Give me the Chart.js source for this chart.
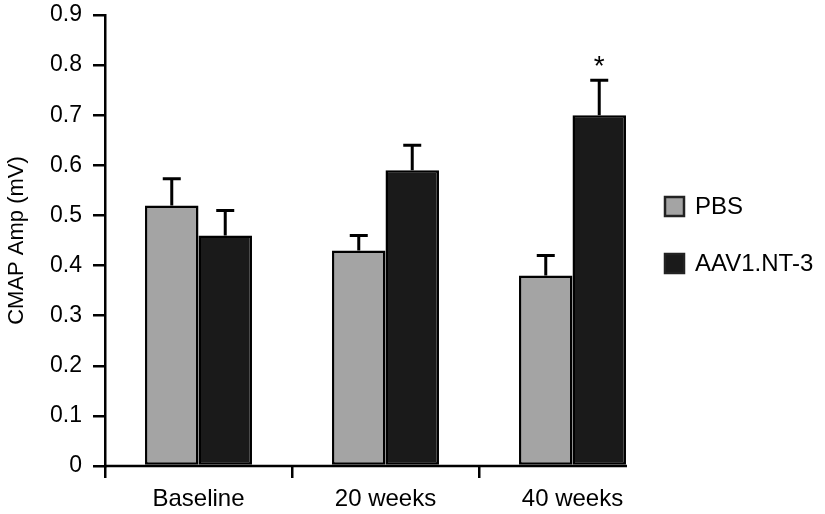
<!DOCTYPE html>
<html>
<head>
<meta charset="utf-8">
<script src="https://cdn.jsdelivr.net/npm/chart.js@4.4.1/dist/chart.umd.min.js"></script>
<style>
  html, body { margin: 0; padding: 0; background: #fff; }
  #wrap { width: 825px; height: 514px; }
</style>
</head>
<body>
<div id="wrap"><canvas id="cmapChart" width="825" height="514"></canvas></div>
<script>
const categories = ['Baseline', '20 weeks', '40 weeks'];
const pbsValues = [0.52, 0.43, 0.38];
const pbsErrors = [0.053, 0.03, 0.04];
const aavValues = [0.46, 0.59, 0.70];
const aavErrors = [0.05, 0.05, 0.07];
const significance = ['', '', '*']; // marks over AAV1.NT-3 bars

const FONT = '"Liberation Sans", Arial, Helvetica, sans-serif';

const errorBars = {
  id: 'errorBars',
  afterDatasetsDraw(chart) {
    const ctx = chart.ctx;
    const y = chart.scales.y;
    ctx.save();
    ctx.strokeStyle = '#000';
    ctx.lineWidth = 3;
    chart.data.datasets.forEach((ds, di) => {
      const meta = chart.getDatasetMeta(di);
      meta.data.forEach((bar, i) => {
        const top = y.getPixelForValue(ds.data[i] + ds.errors[i]);
        ctx.beginPath();
        ctx.moveTo(bar.x, bar.y);
        ctx.lineTo(bar.x, top);
        ctx.moveTo(bar.x - 9, top);
        ctx.lineTo(bar.x + 9, top);
        ctx.stroke();
        if (di === 1 && significance[i]) {
          ctx.fillStyle = '#000';
          ctx.font = '28px ' + FONT;
          ctx.textAlign = 'center';
          ctx.textBaseline = 'alphabetic';
          ctx.fillText(significance[i], bar.x, top - 5);
        }
      });
    });
    ctx.restore();
  }
};

// x axis line stops at the right edge of the last bar, as in the figure
const xAxisLine = {
  id: 'xAxisLine',
  afterDatasetsDraw(chart) {
    const ctx = chart.ctx;
    const area = chart.chartArea;
    const last = chart.getDatasetMeta(chart.data.datasets.length - 1).data;
    const bar = last[last.length - 1];
    ctx.save();
    ctx.strokeStyle = '#000';
    ctx.lineWidth = 2.5;
    ctx.beginPath();
    ctx.moveTo(area.left - 1, area.bottom);
    ctx.lineTo(bar.x + bar.width / 2 + 1, area.bottom);
    ctx.stroke();
    ctx.restore();
  }
};

const sideLegend = {
  id: 'sideLegend',
  afterDraw(chart) {
    const ctx = chart.ctx;
    ctx.save();
    ctx.font = '24px ' + FONT;
    ctx.textBaseline = 'middle';
    chart.data.datasets.forEach((ds, i) => {
      const cy = 206 + i * 57;
      ctx.fillStyle = ds.backgroundColor;
      ctx.strokeStyle = '#222';
      ctx.lineWidth = 2.5;
      ctx.fillRect(665, cy - 9, 19, 19);
      ctx.strokeRect(665, cy - 9, 19, 19);
      ctx.fillStyle = '#000';
      ctx.fillText(ds.label, 695, cy + 1);
    });
    ctx.restore();
  }
};

new Chart(document.getElementById('cmapChart').getContext('2d'), {
  type: 'bar',
  data: {
    labels: categories,
    datasets: [
      {
        label: 'PBS',
        data: pbsValues,
        errors: pbsErrors,
        backgroundColor: '#a4a4a4',
        borderColor: '#000',
        borderWidth: 2.5,
        borderSkipped: false
      },
      {
        label: 'AAV1.NT-3',
        data: aavValues,
        errors: aavErrors,
        backgroundColor: '#1a1a1a',
        borderColor: '#000',
        borderWidth: 2.5,
        borderSkipped: false
      }
    ]
  },
  options: {
    responsive: false,
    animation: false,
    layout: { padding: { top: 0, right: 159, left: 0, bottom: 0 } },
    datasets: { bar: { categoryPercentage: 0.572, barPercentage: 1.0 } },
    plugins: {
      legend: { display: false },
      tooltip: { enabled: false }
    },
    scales: {
      x: {
        afterFit(scale) { scale.height = 48; },
        border: { display: false },
        grid: {
          offset: true,
          drawOnChartArea: false,
          drawTicks: true,
          tickLength: 12,
          color: (c) => (c.type === 'tick' ? '#000' : 'rgba(0,0,0,0)'),
          lineWidth: 2.5
        },
        ticks: {
          color: '#000',
          padding: 7,
          font: { family: FONT, size: 24 }
        }
      },
      y: {
        min: 0,
        max: 0.9,
        afterFit(scale) {
          scale.width = 105;
          scale.paddingTop = 15;
          scale.paddingBottom = 0;
        },
        border: { color: '#000', width: 2.5 },
        grid: {
          drawOnChartArea: false,
          drawTicks: true,
          tickLength: 12,
          color: '#000',
          lineWidth: 2.5
        },
        ticks: {
          stepSize: 0.1,
          color: '#000',
          padding: 11,
          font: { family: FONT, size: 23 },
          callback: (v) => (Math.round(v * 10) / 10).toString()
        },
        title: {
          display: true,
          text: 'CMAP Amp (mV)',
          color: '#000',
          padding: { top: 4, bottom: 0 },
          font: { family: FONT, size: 22 }
        }
      }
    }
  },
  plugins: [errorBars, xAxisLine, sideLegend]
});
</script>
</body>
</html>
